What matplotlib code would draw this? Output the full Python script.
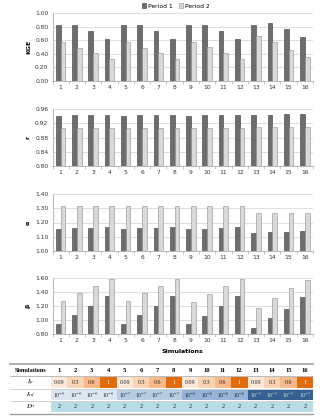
import matplotlib
matplotlib.use("Agg")
import matplotlib.pyplot as plt
import numpy as np
from matplotlib.patches import Rectangle

plt.rcParams["mathtext.fontset"] = "stix"

sims = list(range(1, 17))
kge_p1 = [0.83, 0.82, 0.73, 0.62, 0.83, 0.82, 0.73, 0.62, 0.83, 0.82, 0.74, 0.62, 0.82, 0.86, 0.77, 0.64]
kge_p2 = [0.57, 0.49, 0.41, 0.33, 0.57, 0.49, 0.41, 0.33, 0.58, 0.50, 0.41, 0.33, 0.66, 0.57, 0.45, 0.35]
r_p1 = [0.941, 0.942, 0.943, 0.943, 0.941, 0.942, 0.943, 0.943, 0.941, 0.942, 0.943, 0.943, 0.942, 0.944, 0.945, 0.945]
r_p2 = [0.908, 0.908, 0.908, 0.908, 0.908, 0.908, 0.908, 0.908, 0.908, 0.908, 0.908, 0.908, 0.910, 0.910, 0.910, 0.910]
alpha_p1 = [1.154, 1.159, 1.163, 1.168, 1.154, 1.159, 1.163, 1.168, 1.152, 1.156, 1.161, 1.165, 1.125, 1.130, 1.135, 1.140]
alpha_p2 = [1.317, 1.317, 1.317, 1.317, 1.317, 1.317, 1.317, 1.317, 1.315, 1.315, 1.315, 1.315, 1.270, 1.270, 1.270, 1.270]
beta_p1 = [0.944, 1.068, 1.200, 1.341, 0.944, 1.068, 1.200, 1.341, 0.937, 1.060, 1.200, 1.340, 0.886, 1.025, 1.164, 1.327]
beta_p2 = [1.265, 1.385, 1.490, 1.580, 1.265, 1.385, 1.490, 1.580, 1.255, 1.375, 1.485, 1.580, 1.170, 1.320, 1.455, 1.570]

ip_vals = ["0.09", "0.3", "0.6", "1"] * 4
ird_exp = ["-8"] * 4 + ["-7"] * 4 + ["-6"] * 4 + ["-5"] * 4
d_vals = ["2"] * 16

W, H = 320, 418
fig = plt.figure(figsize=(W / 100, H / 100), dpi=100)
fig.patch.set_facecolor("white")

C1, E1 = "#6d6d6d", "#3c3c3c"
C2, E2 = "#d9d9d9", "#8c8c8c"

panels = [
    (kge_p1, kge_p2, "KGE", (0.0, 1.0), 0.2, "{:.2f}", 13, 81),
    (r_p1, r_p2, "r", (0.80, 0.96), 0.04, "{:.2f}", 109, 166),
    (alpha_p1, alpha_p2, "α", (1.0, 1.4), 0.1, "{:.2f}", 194, 251),
    (beta_p1, beta_p2, "β", (0.8, 1.6), 0.2, "{:.2f}", 278, 334),
]
x = np.array(sims)
bw = 0.29
L, R = 52.5, 313
for i, (p1, p2, lab, ylim, step, fmt, top, bot) in enumerate(panels):
    ax = fig.add_axes([L / W, 1 - bot / H, (R - L) / W, (bot - top) / H])
    b1 = ax.bar(x - bw / 2, p1, bw, color=C1, edgecolor=E1, linewidth=0.4, zorder=3, label="Period 1")
    b2 = ax.bar(x + bw / 2, np.array(p2), bw, color=C2, edgecolor=E2, linewidth=0.4, zorder=3, label="Period 2")
    ax.set_ylim(*ylim)
    ax.set_xlim(0.5, 16.5)
    ticks = np.arange(ylim[0], ylim[1] + step / 2, step)
    ax.set_yticks(ticks)
    ax.set_yticklabels([fmt.format(t) for t in ticks])
    ax.set_xticks(x)
    ax.set_xticklabels([str(s) for s in sims])
    ax.set_xticks(np.arange(0.5, 17, 1), minor=True)
    ax.tick_params(axis="x", which="major", length=0, labelsize=4.3, pad=3, colors="#333333")
    ax.tick_params(axis="x", which="minor", length=2, width=0.4, color="#9a9a9a", direction="out")
    ax.tick_params(axis="y", length=0, labelsize=4.3, pad=3, colors="#333333")
    ax.grid(axis="y", color="#d0d0d0", linewidth=0.5, zorder=0)
    for s in ["top", "right"]:
        ax.spines[s].set_visible(False)
    for s in ["left", "bottom"]:
        ax.spines[s].set_color("#9a9a9a")
        ax.spines[s].set_linewidth(0.5)
    ax.set_ylabel(lab, fontsize=4.5, fontweight="bold", labelpad=3)
    if i == 0:
        fig.legend(handles=[b1, b2], loc="center", bbox_to_anchor=(176 / W, 1 - 6 / H),
                   ncol=2, frameon=False, fontsize=4.3, handlelength=0.7, handleheight=0.7,
                   handletextpad=0.3, columnspacing=1.0)
    if i == 3:
        ax.set_xlabel("Simulations", fontsize=4.5, fontweight="bold", labelpad=4)

# table
tax = fig.add_axes([0, 0, 1, 1])
tax.set_xlim(0, W)
tax.set_ylim(H, 0)
tax.axis("off")
serif = "Liberation Serif"
c0, c1 = 10, 51
cw = (313 - c1) / 16
ip_col = {"0.09": "#fde9d9", "0.3": "#fbd4b4", "0.6": "#f9b98a", "1": "#e26b0a"}
ird_col = {"-8": "#dce6f1", "-7": "#b8cce4", "-6": "#95b3d7", "-5": "#366092"}
d_col = "#b7dee8"
rows = [(377, 388), (389.5, 400), (401.5, 412)]
tax.plot([c0, 313], [363.5, 363.5], color="#a0a0a0", lw=1.2)
tax.plot([c0, 313], [375.5, 375.5], color="#a0a0a0", lw=0.5)
tax.plot([c0, 313], [388.7, 388.7], color="#b0b0b0", lw=0.4)
tax.plot([c0, 313], [400.7, 400.7], color="#b0b0b0", lw=0.4)
tax.plot([c0, 313], [413.5, 413.5], color="#a0a0a0", lw=1.0)
tax.text((c0 + c1) / 2, 370, "Simulations", ha="center", va="center", fontsize=4.5,
         fontweight="bold", family=serif)
tax.text((c0 + c1) / 2, (rows[0][0] + rows[0][1]) / 2, r"$I_p$", ha="center", va="center", fontsize=5)
tax.text((c0 + c1) / 2, (rows[1][0] + rows[1][1]) / 2, r"$I_{rd}$", ha="center", va="center", fontsize=5)
tax.text((c0 + c1) / 2, (rows[2][0] + rows[2][1]) / 2, r"$D_*$", ha="center", va="center", fontsize=5)
for j, s in enumerate(sims):
    xl = c1 + j * cw
    xc = xl + cw / 2
    tax.text(xc, 370, str(s), ha="center", va="center", fontsize=4.8, fontweight="bold", family=serif)
    # Ip
    col = ip_col[ip_vals[j]]
    tax.add_patch(Rectangle((xl, rows[0][0]), cw, rows[0][1] - rows[0][0], facecolor=col, edgecolor="none"))
    tax.text(xc, (rows[0][0] + rows[0][1]) / 2, ip_vals[j], ha="center", va="center", fontsize=4.3,
             family=serif, color="white" if ip_vals[j] == "1" else "#222222")
    # Ird
    col = ird_col[ird_exp[j]]
    tax.add_patch(Rectangle((xl, rows[1][0]), cw, rows[1][1] - rows[1][0], facecolor=col, edgecolor="none"))
    tax.text(xc, (rows[1][0] + rows[1][1]) / 2, "10$^{" + ird_exp[j] + "}$", ha="center", va="center",
             fontsize=4.0, family=serif, color="#dddddd" if ird_exp[j] == "-5" else "#222222")
    # D
    tax.add_patch(Rectangle((xl, rows[2][0]), cw, rows[2][1] - rows[2][0], facecolor=d_col, edgecolor="none"))
    tax.text(xc, (rows[2][0] + rows[2][1]) / 2, d_vals[j], ha="center", va="center", fontsize=4.5,
             family=serif, color="#222222")

fig.savefig("out.png", dpi=100)
